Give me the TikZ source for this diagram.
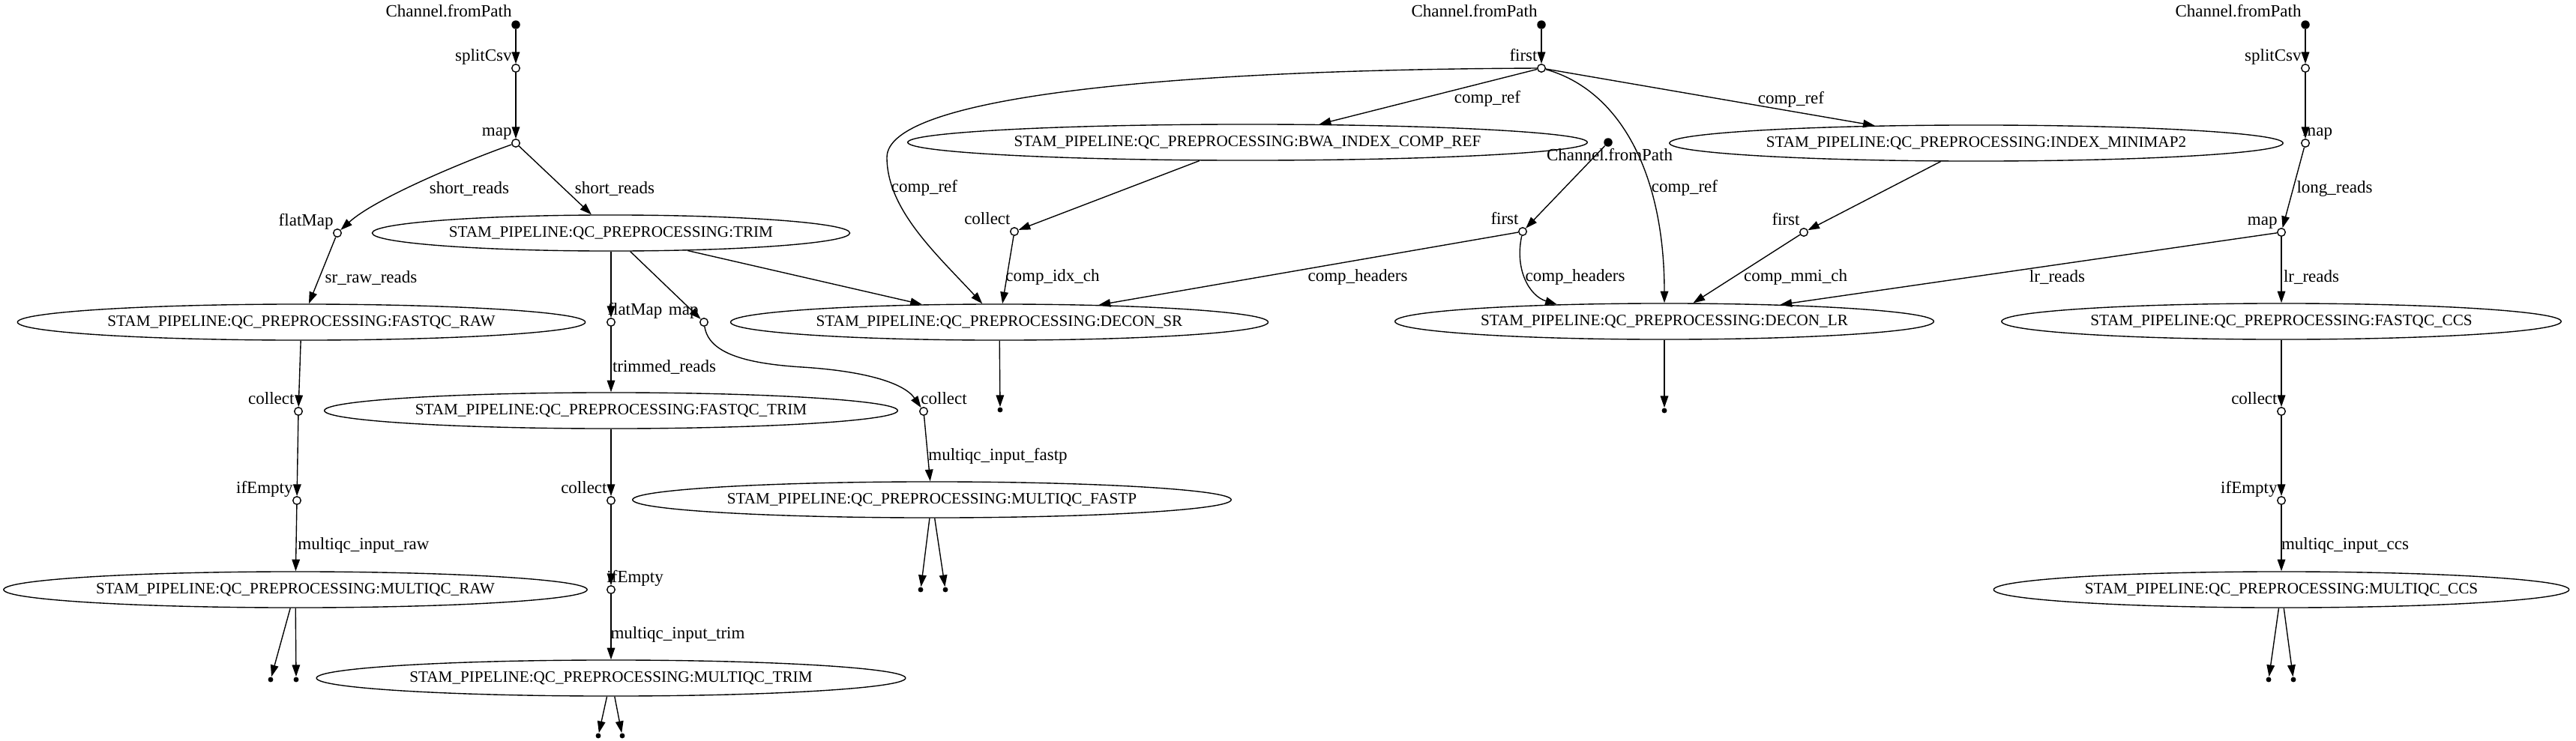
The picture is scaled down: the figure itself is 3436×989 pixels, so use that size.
\documentclass[tikz,border=0pt]{standalone}
\usepackage{fontspec}
\setmainfont{Liberation Serif}
\usepackage{tikz}
\usetikzlibrary{arrows.meta,shapes.geometric}
\definecolor{ink}{HTML}{000000}
\tikzset{
  procnode/.style={
    draw=ink,
    ellipse,
    line width=0.6pt,
    minimum height=20.9pt,
    inner xsep=4pt,
    inner ysep=0pt,
    font=\fontsize{9.2pt}{11pt}\selectfont
  },
  opnode/.style={draw=ink, circle, fill=white, line width=0.6pt, minimum size=4.6pt, inner sep=0pt},
  srcnode/.style={circle, fill=ink, minimum size=5pt, inner sep=0pt},
  sinknode/.style={circle, fill=ink, minimum size=3pt, inner sep=0pt},
  oplabel/.style={inner sep=0pt, anchor=base east},
  oplabelr/.style={inner sep=0pt, anchor=base west},
  edgelabel/.style={inner sep=0pt},
  flowarrow/.style={-{Triangle[length=6.8pt,width=4.6pt]}, line width=0.6pt, draw=ink}
}

\begin{document}
\begin{tikzpicture}[x=0.4348pt, y=-0.4348pt]
  \useasboundingbox (0,0) rectangle (3436,989);

  % short reads
  \node[srcnode] (src1) at (688,33) {};
  \node[oplabel] (src1lbl) at ([shift={(-5,-10)}]src1.center) {Channel.fromPath};
  \node[opnode] (split1) at (688,91) {};
  \node[oplabel] (split1lbl) at ([shift={(-5,-10)}]split1.center) {splitCsv};
  \node[opnode] (map1) at (688,191) {};
  \node[oplabel] (map1lbl) at ([shift={(-5,-10)}]map1.center) {map};
  \node[opnode] (flat1) at (450,311) {};
  \node[oplabel] (flat1lbl) at ([shift={(-5,-10)}]flat1.center) {flatMap};
  \node[procnode] (trim) at (815,311) {STAM\_PIPELINE:QC\_PREPROCESSING:TRIM};
  \node[procnode] (fqraw) at (402,430) {STAM\_PIPELINE:QC\_PREPROCESSING:FASTQC\_RAW};
  \node[opnode] (coll1) at (398,549) {};
  \node[oplabel] (coll1lbl) at ([shift={(-5,-10)}]coll1.center) {collect};
  \node[opnode] (ifem1) at (396,668) {};
  \node[oplabel] (ifem1lbl) at ([shift={(-5,-10)}]ifem1.center) {ifEmpty};
  \node[procnode] (mqraw) at (394,787) {STAM\_PIPELINE:QC\_PREPROCESSING:MULTIQC\_RAW};
  \node[sinknode] (sink1) at (361,907) {};
  \node[sinknode] (sink2) at (395,907) {};
  \node[opnode] (flat2) at (815,430) {};
  \node[oplabelr] (flat2lbl) at ([shift={(-5,-10)}]flat2.center) {flatMap};
  \node[opnode] (map2) at (939,430) {};
  \node[oplabel] (map2lbl) at ([shift={(-7,-10)}]map2.center) {map};
  \node[procnode] (fqtrim) at (815,548) {STAM\_PIPELINE:QC\_PREPROCESSING:FASTQC\_TRIM};
  \node[opnode] (coll2) at (815,668) {};
  \node[oplabel] (coll2lbl) at ([shift={(-5,-10)}]coll2.center) {collect};
  \node[opnode] (ifem2) at (815,787) {};
  \node[oplabelr] (ifem2lbl) at ([shift={(-6,-10)}]ifem2.center) {ifEmpty};
  \node[procnode] (mqtrim) at (815,905) {STAM\_PIPELINE:QC\_PREPROCESSING:MULTIQC\_TRIM};
  \node[sinknode] (sink3) at (798,982) {};
  \node[sinknode] (sink4) at (830,982) {};
  \node[opnode] (coll3) at (1232,549) {};
  \node[oplabelr] (coll3lbl) at ([shift={(-4,-10)}]coll3.center) {collect};
  \node[procnode] (mqfastp) at (1243,667) {STAM\_PIPELINE:QC\_PREPROCESSING:MULTIQC\_FASTP};
  \node[sinknode] (sink5) at (1228,787) {};
  \node[sinknode] (sink6) at (1261,787) {};
  \node[procnode] (deconsr) at (1333,430) {STAM\_PIPELINE:QC\_PREPROCESSING:DECON\_SR};
  \node[sinknode] (sink7) at (1334,547) {};

  % references
  \node[srcnode] (src2) at (2056,33) {};
  \node[oplabel] (src2lbl) at ([shift={(-5,-10)}]src2.center) {Channel.fromPath};
  \node[opnode] (first1) at (2056,91) {};
  \node[oplabel] (first1lbl) at ([shift={(-5,-10)}]first1.center) {first};
  \node[procnode] (bwaidx) at (1664,190) {STAM\_PIPELINE:QC\_PREPROCESSING:BWA\_INDEX\_COMP\_REF};
  \node[procnode] (mmidx) at (2636,191) {STAM\_PIPELINE:QC\_PREPROCESSING:INDEX\_MINIMAP2};
  \node[opnode] (coll4) at (1353,309) {};
  \node[oplabel] (coll4lbl) at ([shift={(-5,-10)}]coll4.center) {collect};
  \node[srcnode] (src3) at (2145,190) {};
  \node[inner sep=0pt, anchor=base] (src3lbl) at ([shift={(2,24)}]src3.center) {Channel.fromPath};
  \node[opnode] (first2) at (2031,309) {};
  \node[oplabel] (first2lbl) at ([shift={(-5,-10)}]first2.center) {first};
  \node[opnode] (first3) at (2406,310) {};
  \node[oplabel] (first3lbl) at ([shift={(-5,-10)}]first3.center) {first};
  \node[procnode] (deconlr) at (2220,429) {STAM\_PIPELINE:QC\_PREPROCESSING:DECON\_LR};
  \node[sinknode] (sink8) at (2220,548) {};

  % long reads
  \node[srcnode] (src4) at (3075,33) {};
  \node[oplabel] (src4lbl) at ([shift={(-5,-10)}]src4.center) {Channel.fromPath};
  \node[opnode] (split2) at (3075,91) {};
  \node[oplabel] (split2lbl) at ([shift={(-5,-10)}]split2.center) {splitCsv};
  \node[opnode] (map3) at (3075,191) {};
  \node[oplabelr] (map3lbl) at ([shift={(-4,-10)}]map3.center) {map};
  \node[opnode] (map4) at (3043,310) {};
  \node[oplabel] (map4lbl) at ([shift={(-5,-10)}]map4.center) {map};
  \node[procnode] (fqccs) at (3043,429) {STAM\_PIPELINE:QC\_PREPROCESSING:FASTQC\_CCS};
  \node[opnode] (coll5) at (3043,549) {};
  \node[oplabel] (coll5lbl) at ([shift={(-5,-10)}]coll5.center) {collect};
  \node[opnode] (ifem3) at (3043,668) {};
  \node[oplabel] (ifem3lbl) at ([shift={(-5,-10)}]ifem3.center) {ifEmpty};
  \node[procnode] (mqccs) at (3043,787) {STAM\_PIPELINE:QC\_PREPROCESSING:MULTIQC\_CCS};
  \node[sinknode] (sink9) at (3026,907) {};
  \node[sinknode] (sink10) at (3059,907) {};

  % edge labels
  \node[edgelabel] (lshort1) at (626,252) {short\_reads};
  \node[edgelabel] (lshort2) at (820,252) {short\_reads};
  \node[edgelabel] (lsrraw) at (495,371) {sr\_raw\_reads};
  \node[edgelabel] (lmqraw) at (485,728) {multiqc\_input\_raw};
  \node[edgelabel] (ltrimmed) at (886,490) {trimmed\_reads};
  \node[edgelabel] (lmqfastp) at (1331,609) {multiqc\_input\_fastp};
  \node[edgelabel] (lmqtrim) at (904,847) {multiqc\_input\_trim};
  \node[edgelabel] (lref1) at (1984,132) {comp\_ref};
  \node[edgelabel] (lref2) at (2389,133) {comp\_ref};
  \node[edgelabel] (lref3) at (1233,251) {comp\_ref};
  \node[edgelabel] (lref4) at (2247,251) {comp\_ref};
  \node[edgelabel] (lidx) at (1404,370) {comp\_idx\_ch};
  \node[edgelabel] (lhead1) at (1811,370) {comp\_headers};
  \node[edgelabel] (lhead2) at (2101,370) {comp\_headers};
  \node[edgelabel] (lmmi) at (2395,370) {comp\_mmi\_ch};
  \node[edgelabel] (llr1) at (2744,370) {lr\_reads};
  \node[edgelabel] (llr2) at (3083,370) {lr\_reads};
  \node[edgelabel] (llong) at (3114,252) {long\_reads};
  \node[edgelabel] (lmqccs) at (3128,728) {multiqc\_input\_ccs};

  % short-read edges
  \draw[flowarrow] (src1) -- (split1);
  \draw[flowarrow] (split1) -- (map1);
  \draw[flowarrow] (map1) .. controls (620,215) and (500,265) .. (flat1);
  \draw[flowarrow] (map1) -- (trim);
  \draw[flowarrow] (flat1) -- (fqraw);
  \draw[flowarrow] (fqraw) -- (coll1);
  \draw[flowarrow] (coll1) -- (ifem1);
  \draw[flowarrow] (ifem1) -- (mqraw);
  \draw[flowarrow] (mqraw) -- (sink1);
  \draw[flowarrow] (mqraw) -- (sink2);
  \draw[flowarrow] (trim) -- (flat2);
  \draw[flowarrow] (trim) -- (map2);
  \draw[flowarrow] (trim) -- (deconsr);
  \draw[flowarrow] (flat2) -- (fqtrim);
  \draw[flowarrow] (fqtrim) -- (coll2);
  \draw[flowarrow] (coll2) -- (ifem2);
  \draw[flowarrow] (ifem2) -- (mqtrim);
  \draw[flowarrow] (mqtrim) -- (sink3);
  \draw[flowarrow] (mqtrim) -- (sink4);
  \draw[flowarrow] (map2) .. controls (945,470) and (990,485) .. (1070,490)
    .. controls (1150,495) and (1205,510) .. (coll3);
  \draw[flowarrow] (coll3) -- (mqfastp);
  \draw[flowarrow] (mqfastp) -- (sink5);
  \draw[flowarrow] (mqfastp) -- (sink6);
  \draw[flowarrow] (deconsr) -- (sink7);

  % reference edges
  \draw[flowarrow] (src2) -- (first1);
  \draw[flowarrow] (first1) -- (bwaidx);
  \draw[flowarrow] (first1) -- (mmidx);
  \draw[flowarrow] (first1) .. controls (1550,93) and (1183,130) .. (1183,210)
    .. controls (1183,280) and (1250,340) .. (deconsr);
  \draw[flowarrow] (first1) .. controls (2160,120) and (2220,230) .. (deconlr);
  \draw[flowarrow] (bwaidx) -- (coll4);
  \draw[flowarrow] (coll4) -- (deconsr);
  \draw[flowarrow] (src3) -- (first2);
  \draw[flowarrow] (first2) -- (deconsr);
  \draw[flowarrow] (first2) .. controls (2020,360) and (2040,395) .. (deconlr.171);
  \draw[flowarrow] (mmidx) -- (first3);
  \draw[flowarrow] (first3) -- (deconlr);
  \draw[flowarrow] (deconlr) -- (sink8);

  % long-read edges
  \draw[flowarrow] (src4) -- (split2);
  \draw[flowarrow] (split2) -- (map3);
  \draw[flowarrow] (map3) -- (map4);
  \draw[flowarrow] (map4) -- (deconlr);
  \draw[flowarrow] (map4) -- (fqccs);
  \draw[flowarrow] (fqccs) -- (coll5);
  \draw[flowarrow] (coll5) -- (ifem3);
  \draw[flowarrow] (ifem3) -- (mqccs);
  \draw[flowarrow] (mqccs) -- (sink9);
  \draw[flowarrow] (mqccs) -- (sink10);
\end{tikzpicture}
\end{document}
